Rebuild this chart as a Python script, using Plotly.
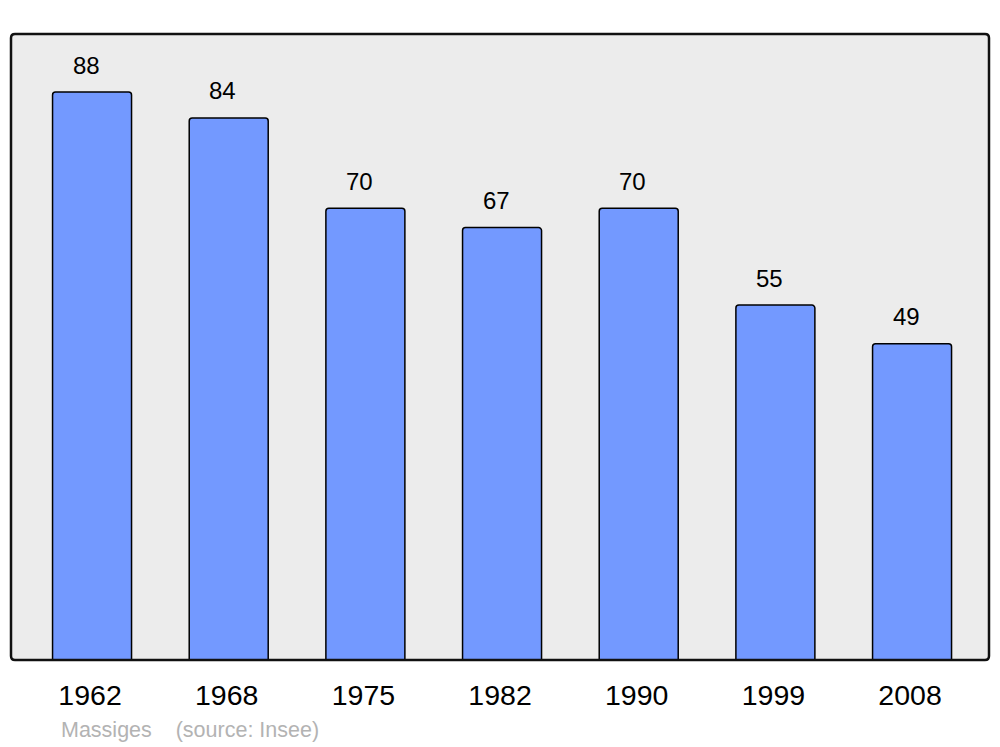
import plotly.graph_objects as go

years = ["1962", "1968", "1975", "1982", "1990", "1999", "2008"]
population = [88, 84, 70, 67, 70, 55, 49]
commune = "Massiges"
source = "(source: Insee)"

# page body has an 8px margin; compensate so the chart lands at the same pixels
OFF = 8
W, H = 1000 - OFF, 747 - OFF
L, R, T, B = 11 - OFF, 11, 34 - OFF, 87
pw, ph = W - L - R, H - T - B

fig = go.Figure()
fig.add_trace(go.Bar(
    x=years, y=population, width=0.578,
    marker=dict(color="#7399ff", line=dict(color="black", width=1.5), cornerradius=3),
    hoverinfo="skip",
))
for i, v in enumerate(population):
    fig.add_annotation(x=i, y=v, text=str(v), showarrow=False, yanchor="middle",
                       yshift=27, xshift=-6, font=dict(size=24, color="black",
                       family="Liberation Sans, Arial"))

rx, ry = 4 / pw, 4 / ph
path = (f"M {rx},0 L {1-rx},0 Q 1,0 1,{ry} L 1,{1-ry} Q 1,1 {1-rx},1 "
        f"L {rx},1 Q 0,1 0,{1-ry} L 0,{ry} Q 0,0 {rx},0 Z")
fig.add_shape(type="path", path=path, xref="paper", yref="paper",
              line=dict(color="#111111", width=2.5), layer="above")

fig.add_annotation(xref="paper", yref="paper", x=(59 - 11) / pw, y=-(730 - 660) / ph,
                   xanchor="left", yanchor="middle", showarrow=False,
                   text=f"{commune}    {source}".replace(" ", "&nbsp;"),
                   font=dict(size=21.5, color="#b3b3b3", family="Liberation Sans, Arial"))

fig.update_layout(
    width=W, height=H, margin=dict(l=L, r=R, t=T, b=B, autoexpand=False),
    paper_bgcolor="white", plot_bgcolor="#ececec", showlegend=False,
    font=dict(family="Liberation Sans, Arial", color="black"),
    xaxis=dict(type="category", range=[-0.593, 6.563], showgrid=False, zeroline=False,
               ticks="", tickfont=dict(size=28.5), ticklabelstandoff=15,
               ticklabelshift=-2, showline=False),
    yaxis=dict(range=[0, 97], showgrid=False, zeroline=False, showticklabels=False,
               ticks="", showline=False),
)
fig.write_html("out.html")
